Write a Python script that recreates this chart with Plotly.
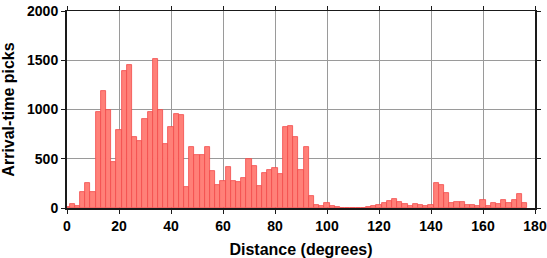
import plotly.graph_objects as go

# Bin centres (degrees), 2-degree bins
bin_centers = list(range(0, 178, 2))
# Arrival-time pick counts per bin
pick_counts = [
    10, 40, 25, 159, 258, 159, 972, 1190, 999, 463,
    794, 1389, 1455, 721, 681, 900, 972, 1508, 999, 648,
    820, 959, 946, 218, 622, 542, 542, 615, 377, 238,
    278, 417, 278, 265, 304, 496, 430, 225, 357, 384,
    403, 344, 820, 833, 721, 384, 615, 126, 26, 20,
    46, 20, 10, 3, 0, 5, 0, 4, 10, 20,
    33, 53, 73, 93, 60, 40, 20, 40, 30, 23,
    26, 251, 231, 152, 46, 66, 60, 26, 26, 20,
    79, 20, 46, 40, 79, 46, 79, 139, 46,
]
x_ticks = list(range(0, 181, 20))
y_ticks = [0, 500, 1000, 1500, 2000]
x_range = [0, 180]
y_range = [0, 2000]

font_family = "Liberation Sans, Arial, sans-serif"

fig = go.Figure()
fig.add_trace(go.Bar(
    x=bin_centers, y=pick_counts, width=2,
    marker=dict(color="#FF8078", line=dict(color="#F24A4A", width=0.8)),
    hoverinfo="x+y",
))
# empty helper trace so the top / right frame axes are drawn
fig.add_trace(go.Scatter(x=[None], y=[None], xaxis="x2", yaxis="y2",
                         showlegend=False, hoverinfo="skip"))

tick_style = dict(ticks="outside", ticklen=4, tickwidth=1.2, tickcolor="#1a1a1a",
                  zeroline=False, showline=True, linecolor="#1a1a1a")

axis_common = dict(
    linewidth=2, mirror=False, automargin=False,
    showgrid=True, gridcolor="#9a9a9a", gridwidth=0.8,
    layer="below traces", ticklabeloverflow="allow",
    tickfont=dict(family=font_family, size=14, color="black", weight="bold"),
    **tick_style,
)

fig.update_layout(
    width=547, height=258,
    margin=dict(l=67, r=12, t=7, b=50),
    paper_bgcolor="white", plot_bgcolor="white",
    showlegend=False, bargap=0,
    xaxis=dict(
        range=x_range, tickvals=x_ticks,
        title=dict(text="Distance (degrees)", standoff=14,
                   font=dict(family=font_family, size=16, color="black", weight="bold")),
        **axis_common,
    ),
    yaxis=dict(
        range=y_range, tickvals=y_ticks,
        title=dict(text="Arrival-time picks", standoff=8,
                   font=dict(family=font_family, size=16, color="black", weight="bold")),
        **axis_common,
    ),
    xaxis2=dict(overlaying="x", side="top", range=x_range, tickvals=x_ticks,
                showticklabels=False, showgrid=False, linewidth=1.2,
                layer="above traces", **tick_style),
    yaxis2=dict(overlaying="y", side="right", range=y_range, tickvals=y_ticks,
                showticklabels=False, showgrid=False, linewidth=2,
                layer="above traces", **tick_style),
)

fig.write_html("out.html")
